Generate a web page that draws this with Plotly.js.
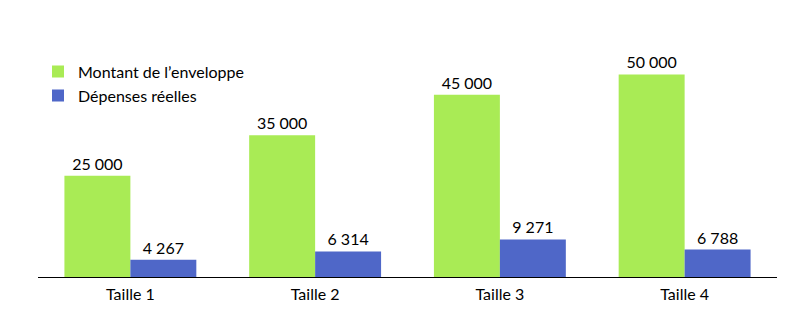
<!DOCTYPE html>
<html>
<head>
<meta charset="utf-8">
<script src="https://cdn.plot.ly/plotly-3.0.1.min.js"></script>
<style>html,body{margin:0;padding:0;background:#fff;}#chart{width:798px;height:325px;}</style>
</head>
<body>
<div id="chart"></div>
<script>
const categories = ["Taille 1", "Taille 2", "Taille 3", "Taille 4"];
const seriesNames = ["Montant de l’enveloppe", "Dépenses réelles"];
const montant = [25000, 35000, 45000, 50000];
const depenses = [4267, 6314, 9271, 6788];

const fmt = v => String(v).replace(/\B(?=(\d{3})+(?!\d))/g, " ");
const font = "Lato, 'Open Sans', sans-serif";

const traces = [
  {type: "bar", name: seriesNames[0], x: categories, y: montant,
   marker: {color: "#A9EB55"}, text: montant.map(fmt), textposition: "outside",
   textfont: {family: font, size: 16, color: "#000"}, cliponaxis: false, hoverinfo: "none"},
  {type: "bar", name: seriesNames[1], x: categories, y: depenses,
   marker: {color: "#4F67C8"}, text: depenses.map(fmt), textposition: "outside",
   textfont: {family: font, size: 16, color: "#000"}, cliponaxis: false, hoverinfo: "none"}
];

const layout = {
  width: 798, height: 325,
  margin: {l: 38, r: 21, t: 20, b: 48},
  paper_bgcolor: "#fff", plot_bgcolor: "#fff",
  font: {family: font, size: 16, color: "#000"},
  barmode: "group", bargap: 0.286, bargroupgap: 0,
  showlegend: true,
  legend: {x: 0, xanchor: "left", y: 0.865, yanchor: "top", font: {family: font, size: 16, color: "#000"},
           bgcolor: "rgba(0,0,0,0)", tracegroupgap: 0},
  xaxis: {showline: true, linecolor: "#000", linewidth: 1, ticks: "", showgrid: false, zeroline: false,
          ticklabelstandoff: 3, tickfont: {family: font, size: 16, color: "#000"}},
  yaxis: {visible: false, range: [0, 63450], showgrid: false, zeroline: false}
};

Plotly.newPlot("chart", traces, layout, {displayModeBar: false, staticPlot: true});
</script>
</body>
</html>
